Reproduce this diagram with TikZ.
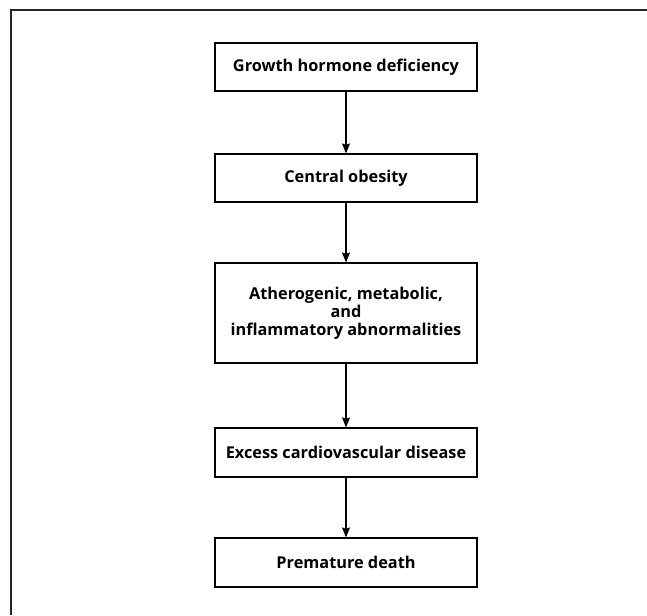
\documentclass[tikz,border=0pt]{standalone}
\usepackage{fontspec}
\setmainfont{Open Sans}
\usetikzlibrary{arrows.meta}
\begin{document}
\begin{tikzpicture}[x=1pt,y=-1pt,
  box/.style={draw=black,line width=1.2pt,minimum width=262pt,inner sep=0pt,align=center,
    font=\fontsize{16.3}{18}\selectfont\bfseries},
  conn/.style={line width=1.2pt,-{Stealth[length=10pt,width=8pt,inset=1.5pt]}}]
\useasboundingbox (0,0) rectangle (647,615);
\draw[line width=2pt,draw=black!85] (11,615) -- (11,10) -- (647,10);
\node[box,minimum height=48pt] (a) at (346,67) {Growth hormone deficiency};
\node[box,minimum height=48pt] (b) at (346,178) {Central obesity};
\node[box,minimum height=100pt] (c) at (346,313) {Atherogenic, metabolic,\\and\\inflammatory abnormalities};
\node[box,minimum height=49pt] (d) at (346,452.5) {Excess cardiovascular disease};
\node[box,minimum height=49pt] (e) at (346,562.5) {Premature death};
\draw[conn] (a) -- (b);
\draw[conn] (b) -- (c);
\draw[conn] (c) -- (d);
\draw[conn] (d) -- (e);
\end{tikzpicture}
\end{document}
